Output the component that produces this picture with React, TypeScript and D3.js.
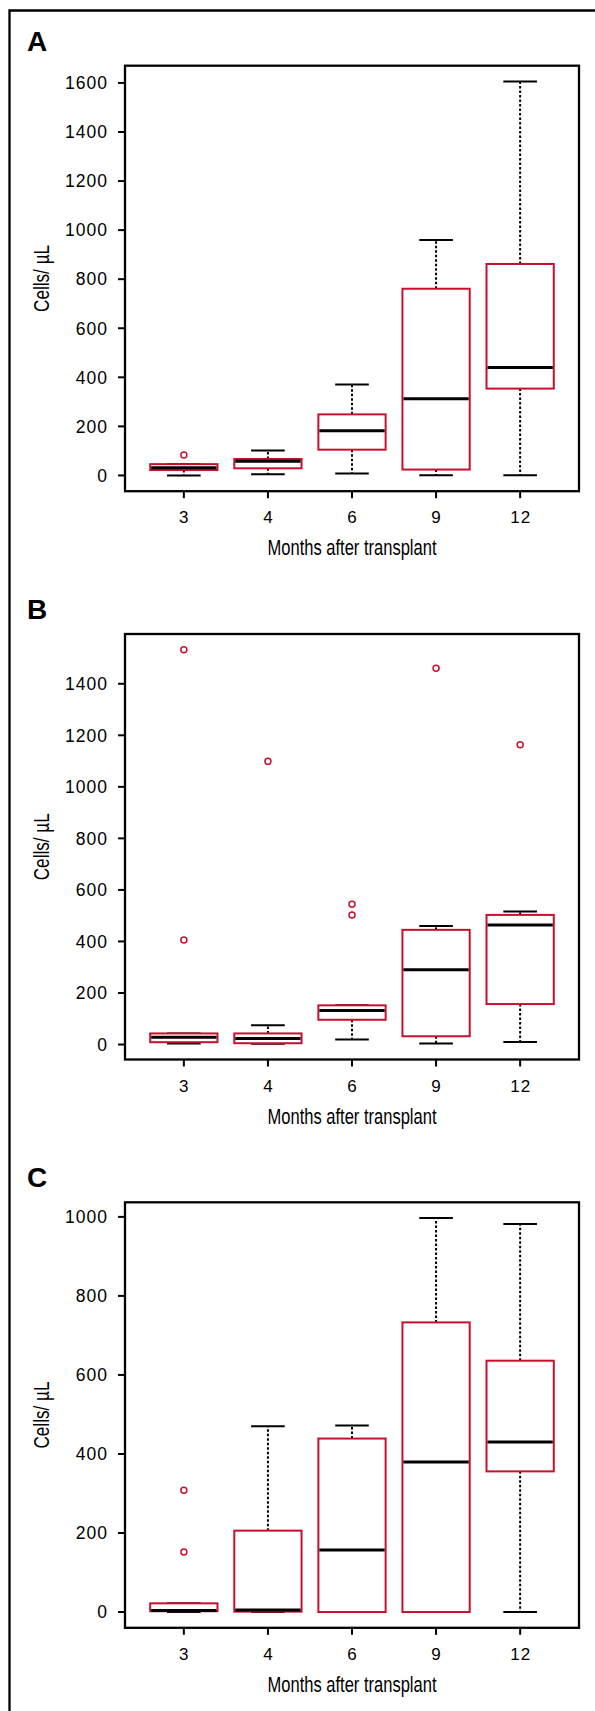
import React from "react";
import * as d3 from "d3";

const months = ["3", "4", "6", "9", "12"];

// Panel A
const aLower = [0, 5, 8, 1, 1];
const aQ1 = [22, 29, 105, 24, 354];
const aMedian = [31, 58, 182, 313, 440];
const aQ3 = [46, 67, 249, 761, 862];
const aUpper = [46, 102, 371, 960, 1606];
const aOutliers = [[83], [], [], [], []];
const aTicks = [0, 200, 400, 600, 800, 1000, 1200, 1400, 1600];

// Panel B
const bLower = [4, 3, 19, 4, 10];
const bQ1 = [9, 5, 96, 32, 157];
const bMedian = [28, 23, 132, 290, 464];
const bQ3 = [43, 43, 152, 445, 503];
const bUpper = [43, 75, 152, 460, 516];
const bOutliers = [[406, 1532], [1099], [503, 544], [1460], [1163]];
const bTicks = [0, 200, 400, 600, 800, 1000, 1200, 1400];

// Panel C
const cLower = [0, 0, 0, 0, 0];
const cQ1 = [2, 1, 0, 0, 356];
const cMedian = [4, 5, 157, 380, 430];
const cQ3 = [22, 206, 439, 733, 636];
const cUpper = [22, 470, 472, 997, 982];
const cOutliers = [[152, 308], [], [], [], []];
const cTicks = [0, 200, 400, 600, 800, 1000];

const RED = "#c8102e";
const FONT = "'Liberation Sans', Arial, Helvetica, sans-serif";

type PanelProps = {
  label: string;
  top: number;
  lower: number[];
  q1: number[];
  median: number[];
  q3: number[];
  upper: number[];
  outliers: number[][];
  ticks: number[];
};

const PLOT_LEFT = 125;
const PLOT_RIGHT = 579;
const PLOT_H = 425.5;

function Panel({ label, top, lower, q1, median, q3, upper, outliers, ticks }: PanelProps) {
  const bottom = top + PLOT_H;
  const all = [...lower, ...upper, ...outliers.flat()];
  const mn = d3.min(all) as number;
  const mx = d3.max(all) as number;
  const pad = (mx - mn) * 0.04;
  const y = d3.scaleLinear().domain([mn - pad, mx + pad]).range([bottom, top]);
  const x = d3.scalePoint<string>().domain(months).range([PLOT_LEFT, PLOT_RIGHT]).padding(0.7);
  const step = x.step();
  const bw = step * 0.8;
  const cw = bw * 0.5;
  const midX = (PLOT_LEFT + PLOT_RIGHT) / 2;
  const midY = (top + bottom) / 2;

  return (
    <g>
      <text x={27} y={top - 15} fontFamily={FONT} fontWeight="bold" fontSize={28} fill="#000">
        {label}
      </text>
      {months.map((m, i) => {
        const cx = x(m) as number;
        return (
          <g key={m}>
            {upper[i] > q3[i] && (
              <line x1={cx} x2={cx} y1={y(q3[i])} y2={y(upper[i])} stroke="#000" strokeWidth={2} strokeDasharray="2.5,2" />
            )}
            {lower[i] < q1[i] && (
              <line x1={cx} x2={cx} y1={y(q1[i])} y2={y(lower[i])} stroke="#000" strokeWidth={2} strokeDasharray="2.5,2" />
            )}
            <line x1={cx - cw / 2} x2={cx + cw / 2} y1={y(upper[i])} y2={y(upper[i])} stroke="#000" strokeWidth={2} />
            <line x1={cx - cw / 2} x2={cx + cw / 2} y1={y(lower[i])} y2={y(lower[i])} stroke="#000" strokeWidth={2} />
            <rect
              x={cx - bw / 2}
              y={y(q3[i])}
              width={bw}
              height={y(q1[i]) - y(q3[i])}
              fill="#fff"
              stroke={RED}
              strokeWidth={2}
            />
            <line x1={cx - bw / 2 + 1} x2={cx + bw / 2 - 1} y1={y(median[i])} y2={y(median[i])} stroke="#000" strokeWidth={3} />
            {outliers[i].map((o, j) => (
              <circle key={j} cx={cx} cy={y(o)} r={3} fill="none" stroke={RED} strokeWidth={1.5} />
            ))}
          </g>
        );
      })}
      <rect x={PLOT_LEFT} y={top} width={PLOT_RIGHT - PLOT_LEFT} height={PLOT_H} fill="none" stroke="#000" strokeWidth={2.3} />
      {ticks.map((t) => (
        <g key={t}>
          <line x1={PLOT_LEFT - 7} x2={PLOT_LEFT} y1={y(t)} y2={y(t)} stroke="#000" strokeWidth={2} />
          <text x={108} y={y(t) + 6.3} textAnchor="end" fontFamily={FONT} fontSize={17.5} letterSpacing={1} fill="#000">
            {t}
          </text>
        </g>
      ))}
      {months.map((m) => (
        <g key={"x" + m}>
          <line x1={x(m)} x2={x(m)} y1={bottom} y2={bottom + 7} stroke="#000" strokeWidth={2} />
          <text x={(x(m) as number) + 0.5} y={bottom + 32} textAnchor="middle" fontFamily={FONT} fontSize={17} letterSpacing={1} fill="#000">
            {m}
          </text>
        </g>
      ))}
      <text
        x={midX}
        y={bottom + 64}
        textAnchor="middle"
        fontFamily={FONT}
        fontSize={22}
        textLength={169}
        lengthAdjust="spacingAndGlyphs"
        fill="#000"
      >
        Months after transplant
      </text>
      <text
        transform={`translate(49,${midY}) rotate(-90)`}
        textAnchor="middle"
        fontFamily={FONT}
        fontSize={22}
        textLength={67}
        lengthAdjust="spacingAndGlyphs"
        fill="#000"
      >
        Cells/ µL
      </text>
    </g>
  );
}

export default function App() {
  const panels = [
    { label: "A", lower: aLower, q1: aQ1, median: aMedian, q3: aQ3, upper: aUpper, outliers: aOutliers, ticks: aTicks },
    { label: "B", lower: bLower, q1: bQ1, median: bMedian, q3: bQ3, upper: bUpper, outliers: bOutliers, ticks: bTicks },
    { label: "C", lower: cLower, q1: cQ1, median: cMedian, q3: cQ3, upper: cUpper, outliers: cOutliers, ticks: cTicks },
  ];
  return (
    <svg
      width={595}
      height={1711}
      style={{ position: "absolute", left: 0, top: 0, background: "#fff" }}
    >
      <rect x={0} y={0} width={595} height={1711} fill="#fff" />
      <path d="M9.5,1711 V10.5 H595" fill="none" stroke="#000" strokeWidth={2.3} />
      {panels.map((p, i) => (
        <Panel key={p.label} {...p} top={65.7 + i * 568.3} />
      ))}
    </svg>
  );
}
